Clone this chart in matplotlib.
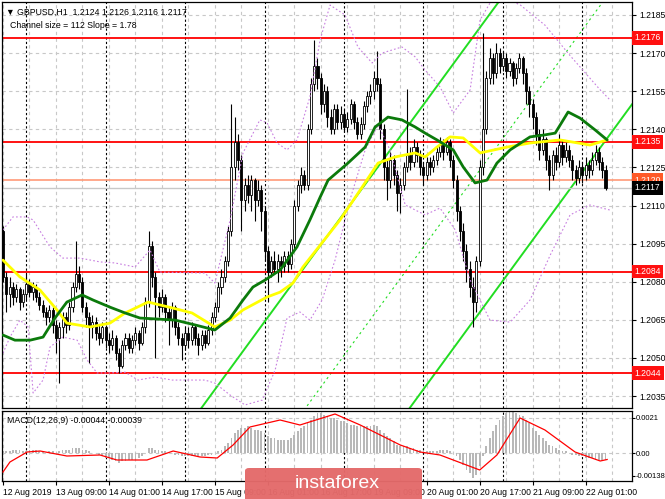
import numpy as np
import matplotlib
matplotlib.use('Agg')
import matplotlib.pyplot as plt
import matplotlib.transforms as mtransforms
from matplotlib.patches import FancyBboxPatch

plt.rcParams['font.family'] = ['Liberation Sans', 'DejaVu Sans']

# ---------------- data (prices in pips above 1.2000) ----------------
symbol_header = "\u25BC GBPUSD,H1  1.2124 1.2126 1.2116 1.2117"
channel_header = "Channel size = 112 Slope = 1.78"
macd_header = "MACD(12,26,9) -0.00044 -0.00039"

first_open_pips = 100
close_pips = [82, 75, 78, 74, 77, 72, 75, 79, 76, 78, 74, 71, 68, 66, 69, 63, 58, 62, 66, 63,
              70, 78, 83, 80, 70, 66, 62, 64, 60, 58, 62, 57, 55, 58, 52, 47, 55, 58, 54, 57,
              60, 56, 62, 72, 94, 82, 74, 70, 74, 68, 65, 70, 62, 58, 55, 60, 57, 62, 58, 55,
              59, 56, 61, 66, 70, 78, 82, 88, 100, 125, 135, 128, 112, 118, 114, 120, 112, 116, 108, 92,
              84, 88, 85, 88, 86, 90, 87, 95, 110, 118, 122, 118, 140, 158, 165, 160, 150, 155, 145, 140,
              148, 143, 146, 141, 144, 150, 143, 138, 142, 149, 153, 155, 160, 158, 140, 125, 120, 128, 122, 115,
              118, 125, 130, 127, 133, 130, 125, 122, 127, 125, 128, 131, 134, 131, 135, 128, 120, 108, 100, 92,
              85, 78, 72, 88, 125, 140, 160, 168, 162, 170, 165, 168, 163, 166, 160, 164, 168, 162, 155, 150,
              145, 138, 132, 136, 128, 122, 130, 127, 134, 129, 132, 128, 124, 121, 125, 122, 126, 124, 128, 131,
              127, 124, 117]
high_pips = [102, 84, 82, 80, 79, 78, 77, 83, 81, 80, 79, 76, 73, 70, 71, 70, 65, 64, 68, 68,
             72, 80, 96, 86, 82, 72, 68, 67, 66, 63, 64, 63, 60, 61, 59, 54, 57, 60, 60, 59,
             62, 61, 64, 74, 100, 96, 84, 76, 77, 75, 70, 72, 71, 64, 60, 62, 62, 64, 63, 60,
             61, 61, 63, 68, 72, 80, 85, 90, 102, 150, 145, 138, 130, 121, 122, 122, 121, 120, 118, 110,
             94, 90, 92, 91, 90, 92, 92, 97, 112, 120, 125, 124, 142, 160, 175, 168, 162, 158, 157, 148,
             150, 150, 149, 148, 147, 152, 151, 145, 145, 151, 155, 158, 163, 171, 160, 142, 128, 131, 130, 124,
             121, 127, 156, 133, 136, 135, 132, 127, 129, 129, 130, 133, 137, 136, 137, 136, 130, 122, 110, 103,
             95, 88, 82, 90, 128, 178, 163, 172, 170, 174, 172, 171, 170, 168, 167, 166, 170, 169, 164, 157,
             152, 147, 140, 140, 137, 130, 132, 133, 138, 136, 135, 134, 130, 126, 128, 127, 129, 128, 131, 134,
             133, 129, 126]
low_pips = [80, 68, 70, 71, 72, 69, 70, 73, 74, 73, 72, 69, 66, 63, 64, 60, 52, 40, 58, 60,
            61, 68, 76, 77, 68, 62, 48, 58, 57, 55, 56, 54, 52, 53, 49, 44, 46, 53, 52, 52,
            55, 53, 55, 60, 70, 78, 50, 66, 68, 64, 55, 62, 59, 55, 49, 53, 54, 55, 55, 51,
            53, 54, 55, 59, 64, 68, 75, 80, 86, 98, 120, 124, 100, 108, 111, 108, 104, 110, 100, 88,
            72, 82, 83, 80, 82, 84, 84, 85, 93, 108, 115, 116, 116, 138, 155, 156, 146, 147, 141, 138,
            138, 140, 140, 139, 139, 142, 140, 136, 136, 140, 147, 150, 152, 155, 136, 120, 112, 117, 118, 108,
            107, 116, 123, 124, 125, 127, 122, 118, 120, 122, 123, 126, 129, 128, 130, 125, 117, 104, 96, 88,
            80, 74, 62, 68, 86, 122, 138, 158, 158, 160, 162, 163, 160, 161, 157, 158, 162, 158, 150, 145,
            140, 134, 128, 130, 124, 116, 120, 124, 125, 126, 127, 125, 120, 118, 119, 119, 120, 121, 122, 126,
            124, 121, 116]

# moving averages (bar index, pips)
ma_green_bar = [0, 3.6, 8.2, 12.1, 15.7, 19.3, 23.9, 27.2, 32.3, 36.9, 41.4, 46.8, 52, 58, 64, 68.6, 72.5,
                75.5, 79.2, 83.7, 88.8, 92.7, 95.8, 98.2, 104.2, 109.4, 112.4, 116.3, 120.5, 124.5, 127.5,
                131.1, 136, 139, 142.6, 146.2, 149.2, 153.2, 159.2, 163.7, 166.8, 170.7, 174.3, 178.9, 182.5]
ma_green_pips = [59, 57, 57, 58.2, 65.7, 72, 74.8, 72.8, 70, 67.7, 65.7, 65.3, 64.9, 63, 61, 65.7, 72.8,
                 77.9, 80.7, 84.6, 93.7, 104.3, 113.3, 120, 126.7, 133, 140.9, 144.8, 143.7, 140.9, 138.5,
                 135.8, 131.9, 125.2, 118.9, 120, 126.7, 131.9, 137, 137.8, 138.5, 146.8, 144.4, 139.7, 135.8]
ma_yellow_bar = [0, 5.1, 11.2, 16.3, 19.3, 26.3, 32.3, 36.9, 43.8, 51.1, 57.1, 64, 68.6, 72.5, 79.8, 83.7,
                 87.6, 90.6, 95.8, 101.8, 107.9, 113.3, 118.4, 124.5, 127.5, 131.1, 135, 139, 144.1, 152.3,
                 159.2, 168.3, 177.3, 182.5]
ma_yellow_pips = [88.5, 81.9, 76.7, 68.9, 63.7, 62.2, 63.7, 67.7, 72, 69.7, 67.7, 62.2, 64.9, 68.9, 74, 75.9,
                  79.5, 85.8, 94.4, 104.3, 116.1, 126.7, 129.1, 130.7, 129.1, 133, 137, 136.6, 130.7, 133,
                  134.6, 135.8, 133.8, 135.8]

# bollinger envelopes (bar index, pips)
bb_upper_bar = [0, 3, 7.3, 9.1, 14.2, 18.1, 23.3, 29.3, 33.8, 39.9, 44.4, 47.4, 61, 64, 68.6, 72.5, 77.6,
                79.8, 82.8, 85.8, 88.8, 92.7, 95.8, 98.8, 103.3, 107.2, 111.5, 114.5, 120.5, 124.5, 127.5,
                132, 136, 141.1, 144.1, 148.6, 156.2, 163.7, 171.3, 180.4, 183.4]
bb_upper_pips = [100.4, 105.5, 105.5, 104.3, 93.7, 89.3, 89.3, 87.8, 87.4, 85.8, 92.5, 83.8, 83.4, 79.5,
                 104.3, 130.7, 143.7, 142.5, 134.6, 131.9, 135.8, 152.7, 175.2, 188.9, 185, 172.4, 166.1,
                 170, 172.4, 168.5, 163.3, 156.7, 146.4, 155.5, 183, 193, 189, 181, 169, 155.5, 151.5]
bb_lower_bar = [0, 2.1, 5.1, 7.6, 9.1, 12.1, 14.2, 18.1, 22.4, 25.4, 28.4, 32.3, 36.9, 40.8, 45.9, 51.1,
                61, 64, 68.6, 73.1, 78.3, 82.2, 85.8, 89.7, 92.7, 96.4, 100.3, 104.8, 109.4, 113.3, 116.9,
                121.5, 127.5, 132, 136.6, 141.1, 147.1, 153.2, 159.2, 165.3, 171.3, 177.3, 183.4]
bb_lower_pips = [51.9, 58.2, 64.9, 62.2, 36.2, 41.3, 54.3, 58.2, 57, 49.2, 44.1, 44.1, 44.4, 41.3, 42.5,
                 41.3, 41.3, 40.1, 35.4, 31.5, 33.4, 45.2, 65.7, 68.1, 64.9, 72.8, 88.5, 112.2, 131.9, 141.7,
                 131.9, 110.2, 106.3, 109, 100.4, 80.7, 64.9, 64.1, 72.8, 90.5, 106.3, 110.2, 108.2]

# regression channel
channel_ref_bar = 126
channel_mid_price = 1.20919
channel_slope = 0.000178
channel_half_width = 0.0056

# horizontal levels
level_prices = [1.2176, 1.2135, 1.2084, 1.2044]
ask_price = 1.2120
bid_price = 1.2117

# MACD (units of 1e-4)
macd_hist = [1, 1, 1, 2, 2, 2, 1, 1, 2, 2, 2, 1, 1, 0, 1, 1, 0, 1, 2, 2,
             2, 3, 3, 3, 2, 2, 1, 0, 0, -1, -2, -3, -3, -4, -5, -6, -5, -5, -4, -4,
             -4, -3, -2, 0, 3, 3, 2, 2, 1, 1, 0, 0, -1, -1, -2, -2, -2, -2, -2, -2,
             -2, -2, -1, -1, 0, 1, 2, 4, 6, 9, 12, 14, 15, 15, 16, 15, 14, 14, 13, 12,
             10, 9, 9, 8, 8, 8, 8, 9, 11, 13, 15, 16, 18, 20, 22, 24, 24, 23, 22, 21,
             21, 20, 19, 19, 18, 17, 17, 16, 16, 16, 16, 16, 17, 16, 14, 12, 10, 9, 7, 5,
             4, 4, 4, 3, 3, 2, 2, 1, 1, 1, 1, 1, 2, 2, 2, 1, 0, -2, -4, -7,
             -10, -12, -15, -13, -8, -2, 4, 9, 13, 17, 20, 22, 24, 25, 25, 24, 23, 22, 20, 18,
             15, 13, 11, 9, 7, 5, 4, 3, 2, 1, 1, 0, -1, -1, -2, -2, -3, -3, -3, -4,
             -4, -4, -4.4]
macd_signal_bar = [0, 2.1, 7.3, 11.2, 19.3, 29.3, 34.4, 43.5, 51.4, 59.5, 64.7, 69.5, 74.6, 83.7, 89.7,
                   100.3, 107.9, 120, 126, 132, 144, 149.2, 156.2, 163.7, 172.8, 180.4, 182.5]
macd_signal_vals = [-11.4, -5.4, 0.6, 1.2, -1.8, -1.2, -4.2, -4.2, 1.2, -2.4, -3.0, 4.8, 15.6, 19.8, 16.8,
                    23.4, 16.8, 4.8, 0.6, -1.2, -10.2, -1.2, 21, 13.8, 0.6, -4.8, -3.9]

# axes labels
price_ticks = [1.2185, 1.2170, 1.2155, 1.2140, 1.2125, 1.2110, 1.2095, 1.2080, 1.2065, 1.2050, 1.2035]
date_labels = ["12 Aug 2019", "13 Aug 09:00", "14 Aug 01:00", "14 Aug 17:00", "15 Aug 09:00",
               "16 Aug 01:00", "16 Aug 17:00", "19 Aug 09:00", "20 Aug 01:00", "20 Aug 17:00",
               "21 Aug 09:00", "22 Aug 01:00"]
date_label_bars = [0, 16, 32, 48, 64, 80, 96, 112, 128, 144, 160, 176]
day_start_bars = [7, 31, 55, 79, 103, 127, 151, 175]
macd_ticks = [0.0021, 0.0, -0.00138]
macd_tick_labels = ["0.0021", "0.00", "-0.00138"]

# ---------------- derived ----------------
base = 1.2
closes = base + np.array(close_pips) / 1e4
highs = base + np.array(high_pips) / 1e4
lows = base + np.array(low_pips) / 1e4
opens = base + np.r_[first_open_pips, close_pips[:-1]] / 1e4
n = len(closes)
idx = np.arange(n)

W, H = 665, 499
fig = plt.figure(figsize=(W / 100, H / 100), dpi=100)
fig.patch.set_facecolor('white')
ax = fig.add_axes([2 / W, 1 - 408 / H, 630 / W, 406 / H])
axm = fig.add_axes([2 / W, 1 - 481 / H, 630 / W, 70 / H])

xlim = (-0.3, 190)
for a in (ax, axm):
    a.set_xlim(*xlim)
    for s in a.spines.values():
        s.set_color('black')
        s.set_linewidth(0.9)

ax.set_ylim(1.20303, 1.21901)
axm.set_ylim(-0.00168, 0.00252)

grid_kw = dict(color='#C8C8C8', linestyle=(0, (3, 3)), linewidth=0.8, zorder=0)
for p in price_ticks:
    ax.axhline(p, **grid_kw)
for b in range(0, 191, 8):
    ax.axvline(b, **grid_kw)
    axm.axvline(b, **grid_kw)
axm.axhline(0.0, **grid_kw)
axm.axhline(0.0021, **grid_kw)
for b in day_start_bars:
    ax.axvline(b, color='black', linestyle=(0, (2, 2)), linewidth=0.8, zorder=0.5)
    axm.axvline(b, color='black', linestyle=(0, (2, 2)), linewidth=0.8, zorder=0.5)

# regression channel
xs = np.array(xlim)
mid = channel_mid_price + channel_slope * (xs - channel_ref_bar)
ax.plot(xs, mid + channel_half_width, color='#22DD22', lw=1.4, zorder=1.5)
ax.plot(xs, mid - channel_half_width, color='#22DD22', lw=1.4, zorder=1.5)
ax.plot(xs, mid, color='#22DD22', lw=0.8, linestyle=(0, (2, 3)), zorder=1.5)

# horizontal levels
for p in level_prices:
    ax.axhline(p, color='#FF0000', lw=1.3, zorder=1.6)
ax.axhline(ask_price, color='#FF9A78', lw=1.2, zorder=1.6)
ax.axhline(bid_price, color='#C8C8C8', lw=1.0, zorder=1.6)

# candles
ax.vlines(idx, lows, highs, color='black', lw=0.8, zorder=2)
up = closes >= opens
body_bottom = np.minimum(opens, closes)
body_h = np.maximum(np.abs(closes - opens), 0.00004)
ax.bar(idx[up], body_h[up], bottom=body_bottom[up], width=0.62, facecolor='white',
       edgecolor='black', linewidth=0.6, zorder=2.1)
ax.bar(idx[~up], body_h[~up], bottom=body_bottom[~up], width=0.62, facecolor='black',
       edgecolor='black', linewidth=0.6, zorder=2.1)

# bands and MAs
ax.plot(bb_upper_bar, base + np.array(bb_upper_pips) / 1e4, color='#C77FE0', lw=0.8,
        linestyle=(0, (1.5, 2)), zorder=2.5)
ax.plot(bb_lower_bar, base + np.array(bb_lower_pips) / 1e4, color='#C77FE0', lw=0.8,
        linestyle=(0, (1.5, 2)), zorder=2.5)
ax.plot(ma_yellow_bar, base + np.array(ma_yellow_pips) / 1e4, color='#FFFF00', lw=2.0, zorder=3,
        solid_capstyle='round', solid_joinstyle='round')
ax.plot(ma_green_bar, base + np.array(ma_green_pips) / 1e4, color='#0B7A0B', lw=2.0, zorder=3.1,
        solid_capstyle='round', solid_joinstyle='round')

# right price axis
ax.yaxis.tick_right()
ax.set_yticks(price_ticks)
ax.set_yticklabels([f"{p:.4f}" for p in price_ticks], fontsize=6.2)
ax.tick_params(axis='y', length=3, width=0.8, pad=2)
ax.set_xticks([])

trans = mtransforms.blended_transform_factory(ax.transAxes, ax.transData)
for p in level_prices:
    ax.text(1.004, p, f"{p:.4f}", transform=trans, fontsize=6.2, color='white', va='center',
            ha='left', zorder=10, clip_on=False,
            bbox=dict(boxstyle='square,pad=0.28', fc='#FF1010', ec='none'))
ax.text(1.004, ask_price, f"{ask_price:.4f}", transform=trans, fontsize=6.2, color='white',
        va='center', ha='left', zorder=10, clip_on=False,
        bbox=dict(boxstyle='square,pad=0.28', fc='#FF5A28', ec='none'))
ax.text(1.004, bid_price, f"{bid_price:.4f}", transform=trans, fontsize=6.2, color='white',
        va='center', ha='left', zorder=10, clip_on=False,
        bbox=dict(boxstyle='square,pad=0.28', fc='black', ec='none'))

ax.text(0.006, 0.985, symbol_header, transform=ax.transAxes, fontsize=6.3, va='top', ha='left',
        zorder=11)
ax.text(0.012, 0.953, channel_header, transform=ax.transAxes, fontsize=6.3, va='top', ha='left',
        zorder=11)

# MACD panel
axm.bar(idx, np.array(macd_hist) / 1e4, width=0.55, color='#B8B8B8', zorder=2)
axm.plot(macd_signal_bar, np.array(macd_signal_vals) / 1e4, color='#FF0000', lw=0.9, zorder=3)
axm.yaxis.tick_right()
axm.set_yticks(macd_ticks)
axm.set_yticklabels(macd_tick_labels, fontsize=5.5)
axm.tick_params(axis='y', length=2, width=0.8, pad=0.5)
axm.set_xticks(date_label_bars)
axm.set_xticklabels(date_labels, fontsize=6.2, ha='left')
axm.tick_params(axis='x', length=3, width=0.8, pad=2)
axm.text(0.008, 0.93, macd_header, transform=axm.transAxes, fontsize=6.3, va='top', ha='left')

# instaforex badge (covers the middle date labels as in the screenshot)
badge = FancyBboxPatch((245 / W, -0.02), 177 / W, 31 / H + 0.02,
                       boxstyle='round,pad=0,rounding_size=0.006',
                       transform=fig.transFigure, fc='#E46A6A', ec='none', alpha=0.97, zorder=20)
fig.patches.append(badge)
fig.text(337 / W, 1 - 483 / H, "instaforex", fontsize=14, color='white', ha='center', va='center',
         zorder=21)

fig.savefig('out.png', dpi=100)
